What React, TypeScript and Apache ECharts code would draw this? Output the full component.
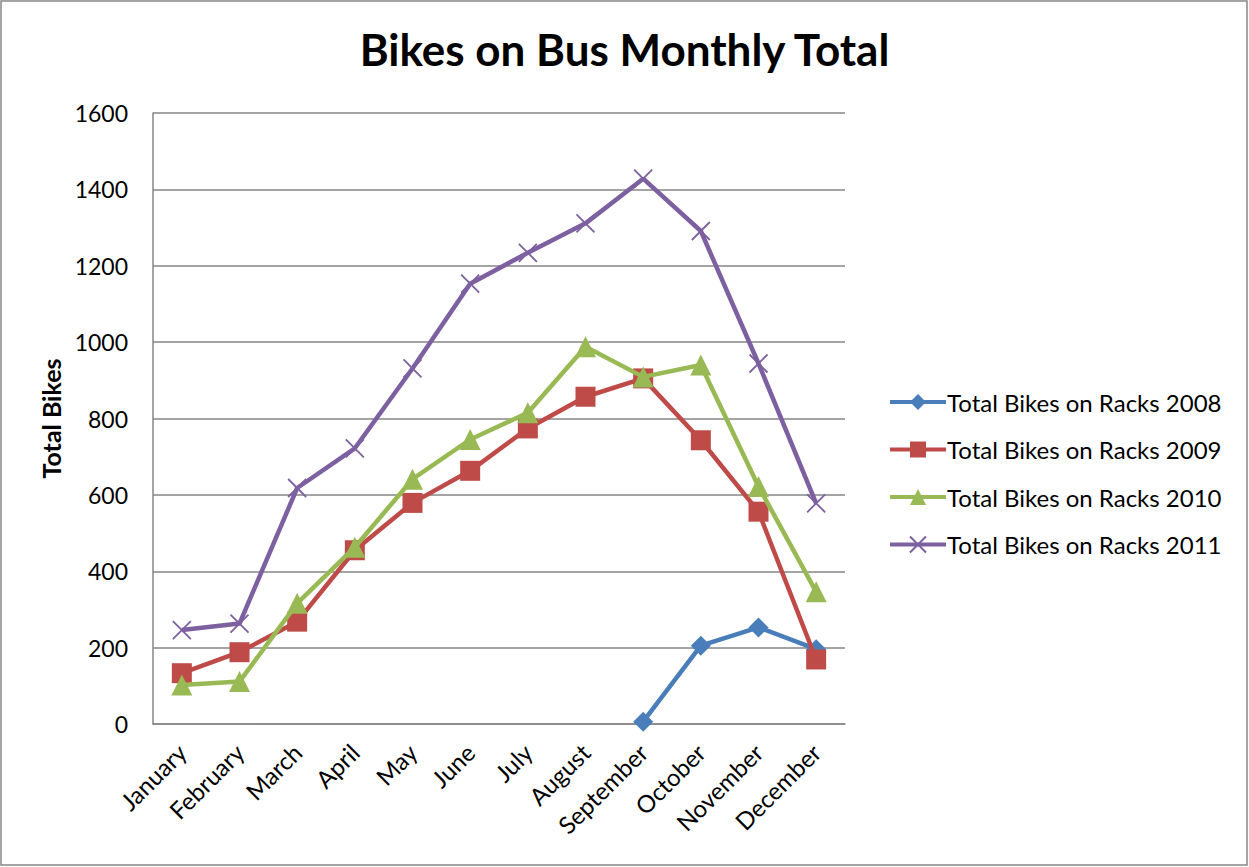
import React, { useEffect, useRef } from "react";
import * as echarts from "echarts";

const months = ["January","February","March","April","May","June","July","August","September","October","November","December"];
const racks2008 = [null, null, null, null, null, null, null, null, 6, 205, 253, 196];
const racks2009 = [133, 188, 268, 455, 579, 663, 774, 857, 905, 743, 556, 169];
const racks2010 = [102, 111, 316, 463, 641, 745, 815, 988, 909, 940, 622, 346];
const racks2011 = [246, 263, 618, 722, 931, 1153, 1234, 1311, 1428, 1291, 944, 578];
const seriesNames = ["Total Bikes on Racks 2008","Total Bikes on Racks 2009","Total Bikes on Racks 2010","Total Bikes on Racks 2011"];
const colors = ["#4A7EBB", "#BE4B48", "#98B954", "#7D60A0"];

const FONT = "Lato, 'Noto Sans', sans-serif";

export default function App() {
  const ref = useRef<HTMLDivElement>(null);
  useEffect(() => {
    document.body.style.margin = "0";
    const chart = echarts.init(ref.current!, null, { renderer: "svg" });
    const mk = (i: number, data: any[], symbol: string, size: number, extra: any = {}) => ({
      name: seriesNames[i],
      type: "line",
      data,
      symbol,
      symbolSize: size,
      showSymbol: true,
      connectNulls: false,
      lineStyle: { color: colors[i], width: 4.5 },
      itemStyle: { color: colors[i], borderColor: colors[i], borderWidth: 0, ...extra },
      z: 2 + i,
    });
    chart.setOption({
      animation: false,
      backgroundColor: "#ffffff",
      title: {
        text: "Bikes on Bus Monthly Total",
        left: "center",
        top: 22,
        textStyle: { fontFamily: FONT, fontSize: 44, fontWeight: "bold", color: "#000" },
      },
      grid: { left: 153, top: 113, right: 404, bottom: 143 },
      legend: {
        orient: "vertical",
        left: 883,
        top: 385,
        itemWidth: 56,
        itemHeight: 20,
        itemGap: 23.5,
        lineStyle: { width: 4 },
        textStyle: { fontFamily: FONT, fontSize: 24, lineHeight: 24, color: "#000", padding: [0, 0, 0, -4] },
        data: seriesNames,
      },
      xAxis: {
        type: "category",
        data: months,
        boundaryGap: true,
        axisLine: { lineStyle: { color: "#868686", width: 1.5 } },
        axisTick: { show: false },
        axisLabel: {
          rotate: 45,
          interval: 0,
          fontFamily: FONT,
          fontSize: 24,
          color: "#000",
          margin: 24,
        },
      },
      yAxis: {
        type: "value",
        min: 0,
        max: 1600,
        interval: 200,
        name: "Total Bikes",
        nameLocation: "middle",
        nameGap: 90,
        nameTextStyle: { fontFamily: FONT, fontSize: 25, fontWeight: "bold", color: "#000" },
        axisLine: { show: true, lineStyle: { color: "#868686", width: 1.5 } },
        axisTick: { show: false },
        splitLine: { lineStyle: { color: "#868686", width: 1.5 } },
        axisLabel: { fontFamily: FONT, fontSize: 23, color: "#000", margin: 25, formatter: (v: number) => String(v) },
      },
      graphic: [
        {
          type: "rect",
          shape: { x: 1, y: 1, width: 1246, height: 864 },
          style: { fill: "none", stroke: "#868686", lineWidth: 1.5 },
          silent: true,
        },
      ],
      series: [
        mk(0, racks2008, "diamond", 20),
        mk(1, racks2009, "rect", 20),
        mk(2, racks2010, "triangle", 21),
        mk(3, racks2011, "path://M0,0L10,10M10,0L0,10", 18, { borderWidth: 1.8, color: "none" }),
      ],
    });
    return () => chart.dispose();
  }, []);
  return <div ref={ref} style={{ width: 1249, height: 867 }} />;
}
